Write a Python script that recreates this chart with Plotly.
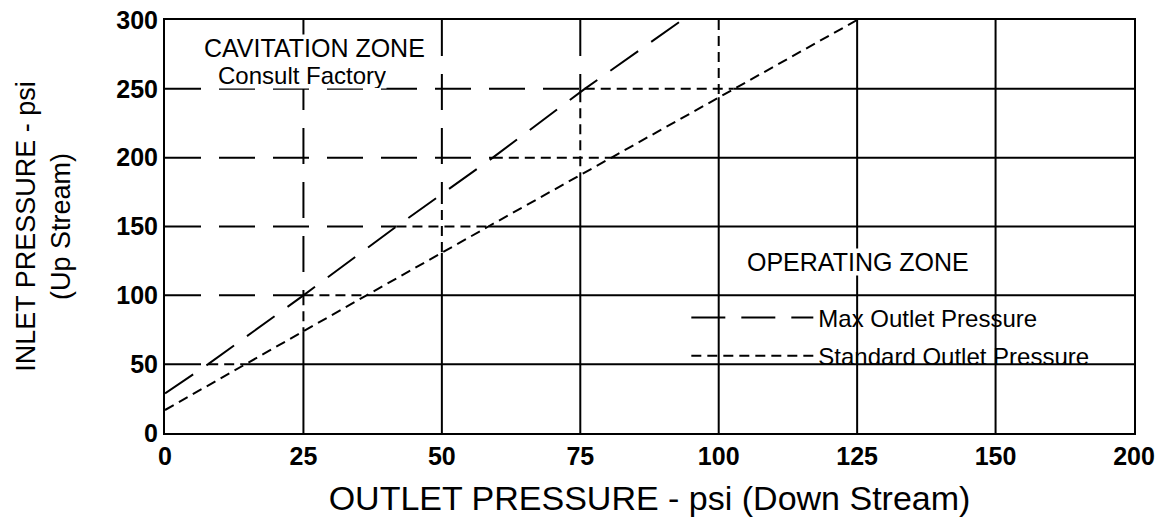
import numpy as np
import plotly.graph_objects as go

# ---------------- data ----------------
max_outlet = [0, 7.8, 25, 41.8, 59.2, 75.8, 93.4]
max_inlet = [28.8, 50, 100, 150, 200, 250, 300]
std_outlet = [0, 14.45, 36.4, 58.4, 80.6, 102.7, 125.0]
std_inlet = [16.7, 50, 100, 150, 200, 250, 300]

x_tick_vals = [0, 25, 50, 75, 100, 125, 150, 175]
x_tick_text = ["0", "25", "50", "75", "100", "125", "150", "200"]
y_tick_vals = [0, 50, 100, 150, 200, 250, 300]
x_grid = [25, 50, 75, 100, 125, 150]
y_grid = [50, 100, 150, 200, 250]

series_names = ["Max Outlet Pressure", "Standard Outlet Pressure"]
zone_labels = ["CAVITATION ZONE", "Consult Factory", "OPERATING ZONE"]

# ---------------- styling ----------------
FONT = "Liberation Sans, Arial, sans-serif"
LONG = "36px,18px"
SHORT = "10px,6px"
X_END = x_tick_vals[-1]
Y_END = y_tick_vals[-1]

fig = go.Figure()


def seg(x0, y0, x1, y1, dash):
    if abs(x1 - x0) < 1e-9 and abs(y1 - y0) < 1e-9:
        return
    fig.add_shape(type="line", xref="x", yref="y", x0=x0, y0=y0, x1=x1, y1=y1,
                  line=dict(color="black", width=2, dash=dash), layer="below")


# vertical grid lines: long dash in cavitation zone, short dash between curves, solid below
for gx in x_grid:
    ya = float(np.interp(gx, max_outlet, max_inlet)) if gx <= max_outlet[-1] else Y_END
    yb = float(np.interp(gx, std_outlet, std_inlet)) if gx <= std_outlet[-1] else Y_END
    seg(gx, Y_END, gx, ya, LONG)
    seg(gx, ya, gx, yb, SHORT)
    seg(gx, yb, gx, 0, "solid")

# horizontal grid lines
for gy in y_grid:
    xa = float(np.interp(gy, max_inlet, max_outlet))
    xb = float(np.interp(gy, std_inlet, std_outlet))
    seg(0, gy, xa, gy, LONG)
    seg(xa, gy, xb, gy, SHORT)
    seg(xb, gy, X_END, gy, "solid")

# white backing behind the legend (hides vertical grid lines there)
fig.add_shape(type="rect", xref="paper", yref="paper", x0=0.536, x1=0.973, y0=0.175, y1=0.32,
              line=dict(width=0), fillcolor="white", layer="below")

fig.add_trace(go.Scatter(x=max_outlet, y=max_inlet, mode="lines", name=series_names[0],
                         legendgroup="a",
                         line=dict(color="black", width=2, dash="34px,16px")))
fig.add_trace(go.Scatter(x=std_outlet, y=std_inlet, mode="lines", name=series_names[1],
                         legendgroup="b",
                         line=dict(color="black", width=2, dash=SHORT)))

fig.add_annotation(x=6.9, y=279.7, xref="x", yref="y", text=zone_labels[0], showarrow=False,
                   xanchor="left", yanchor="middle", bgcolor="white", borderpad=0, height=26,
                   font=dict(family=FONT, size=25, color="black"))
fig.add_annotation(x=9.4, y=260.0, xref="x", yref="y", text=zone_labels[1], showarrow=False,
                   xanchor="left", yanchor="middle", bgcolor="white", borderpad=0, height=25,
                   font=dict(family=FONT, size=24, color="black"))
fig.add_annotation(x=125.2, y=124.2, xref="x", yref="y", text=zone_labels[2], showarrow=False,
                   xanchor="center", yanchor="middle", bgcolor="white", borderpad=0, height=26,
                   font=dict(family=FONT, size=25, color="black"))

fig.update_layout(
    width=1156, height=518,
    margin=dict(l=165, r=22, t=20, b=85, autoexpand=False),
    paper_bgcolor="white", plot_bgcolor="white",
    font=dict(family=FONT, color="black"),
    showlegend=True,
    legend=dict(x=0.538, y=0.333, xanchor="left", yanchor="top", itemwidth=122,
                bgcolor="rgba(0,0,0,0)", borderwidth=0, tracegroupgap=4,
                traceorder="grouped",
                font=dict(family=FONT, size=24, color="black")),
    xaxis=dict(range=[0, X_END], tickvals=x_tick_vals, ticktext=x_tick_text,
               showgrid=False, zeroline=False, showline=True, mirror=True,
               linecolor="black", linewidth=2, ticks="", automargin=False,
               ticklabeloverflow="allow",
               tickfont=dict(family=FONT, size=25, color="black", weight="bold"),
               title=dict(text="OUTLET PRESSURE - psi (Down Stream)", standoff=17,
                          font=dict(family=FONT, size=34, color="black"))),
    yaxis=dict(range=[0, Y_END], tickvals=y_tick_vals,
               showgrid=False, zeroline=False, showline=True, mirror=True,
               linecolor="black", linewidth=2, ticks="", automargin=False,
               ticklabeloverflow="allow",
               tickfont=dict(family=FONT, size=25, color="black", weight="bold"),
               title=dict(text="INLET PRESSURE - psi<br>(Up Stream)", standoff=38,
                          font=dict(family=FONT, size=27, color="black"))),
)

# remove the browser's default 8px page margin so the figure fills the window exactly
fig.write_html("out.html", config={"displayModeBar": False},
               post_script="document.body.style.margin='0';")
